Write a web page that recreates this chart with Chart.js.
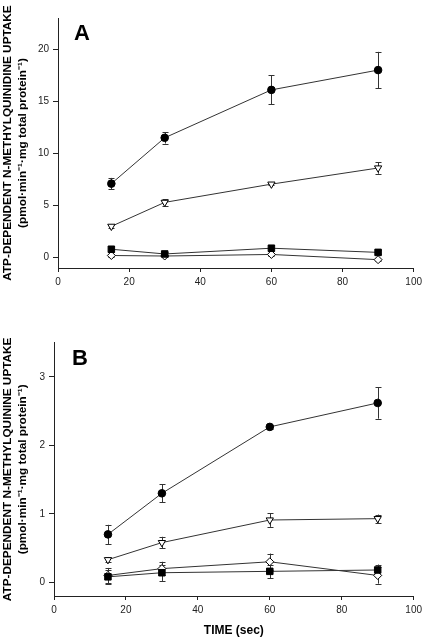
<!DOCTYPE html>
<html>
<head>
<meta charset="utf-8">
<script src="https://cdn.jsdelivr.net/npm/chart.js@4.4.1/dist/chart.umd.min.js"></script>
<style>
  html, body { margin: 0; padding: 0; background: #fff; }
  .panel { position: absolute; left: 0; width: 426px; height: 320px; }
</style>
</head>
<body>
<div class="panel" style="top:0"><canvas id="chartA" width="426" height="320"></canvas></div>
<div class="panel" style="top:320px"><canvas id="chartB" width="426" height="320"></canvas></div>
<script>
// Sampling times (sec) and axis ticks
const times = [15, 30, 60, 90];
const xTicks = [0, 20, 40, 60, 80, 100];
const yTicksA = [0, 5, 10, 15, 20];
const yTicksB = [0, 1, 2, 3];

// Panel A: N-methylquinidine uptake (mean and error)
const aCircle = [7.1, 11.5, 16.1, 18.0];
const aCircleErr = [0.55, 0.55, 1.4, 1.75];
const aTriangle = [3.0, 5.3, 7.05, 8.6];
const aTriangleErr = [0.12, 0.3, 0.12, 0.55];
const aSquare = [0.8, 0.35, 0.9, 0.5];
const aSquareErr = [0.3, 0.15, 0.3, 0.2];
const aDiamond = [0.2, 0.15, 0.3, -0.2];
const aDiamondErr = [0.1, 0.1, 0.1, 0.1];

// Panel B: N-methylquinine uptake (mean and error)
const bCircle = [0.7, 1.3, 2.27, 2.62];
const bCircleErr = [0.14, 0.13, 0.03, 0.23];
const bTriangle = [0.33, 0.58, 0.91, 0.93];
const bTriangleErr = [0.04, 0.085, 0.1, 0.06];
const bDiamond = [0.1, 0.2, 0.3, 0.1];
const bDiamondErr = [0.11, 0.1, 0.12, 0.12];
const bSquare = [0.08, 0.14, 0.16, 0.18];
const bSquareErr = [0.1, 0.12, 0.1, 0.08];

const FONT = "'Liberation Sans', Arial, sans-serif";
const INK = '#222';

// Draws vertical error bars with caps under the markers
const errorBars = {
  id: 'errorBars',
  beforeDatasetsDraw(chart) {
    const { ctx, scales: { x, y } } = chart;
    ctx.save();
    ctx.strokeStyle = '#333';
    ctx.lineWidth = 1;
    chart.data.datasets.forEach(ds => {
      ds.data.forEach((p, i) => {
        const e = ds.errors[i];
        const px = Math.round(x.getPixelForValue(p.x)) + 0.5;
        const top = y.getPixelForValue(p.y + e);
        const bot = y.getPixelForValue(p.y - e);
        ctx.beginPath();
        ctx.moveTo(px, top);
        ctx.lineTo(px, bot);
        ctx.moveTo(px - 3, Math.round(top) + 0.5);
        ctx.lineTo(px + 3, Math.round(top) + 0.5);
        ctx.moveTo(px - 3, Math.round(bot) + 0.5);
        ctx.lineTo(px + 3, Math.round(bot) + 0.5);
        ctx.stroke();
      });
    });
    ctx.restore();
  }
};

// Panel letter in the upper left of the plot area
const panelLetter = {
  id: 'panelLetter',
  afterDraw(chart, args, opts) {
    const { ctx, chartArea } = chart;
    ctx.save();
    ctx.font = 'bold 22px ' + FONT;
    ctx.fillStyle = '#000';
    ctx.textBaseline = 'alphabetic';
    ctx.fillText(opts.text, chartArea.left + opts.dx, chartArea.top + opts.dy);
    ctx.restore();
  }
};

function series(values, errors, style, filled, radius, rotation) {
  return {
    data: values.map((v, i) => ({ x: times[i], y: v })),
    errors,
    borderColor: '#333',
    borderWidth: 1,
    pointStyle: style,
    pointRotation: rotation || 0,
    pointRadius: radius,
    pointBorderWidth: 1,
    pointBorderColor: '#000',
    pointBackgroundColor: filled ? '#000' : '#fff',
    tension: 0
  };
}

function makeChart(id, cfg) {
  return new Chart(document.getElementById(id), {
    type: 'line',
    data: { datasets: cfg.datasets },
    options: {
      responsive: false,
      animation: false,
      events: [],
      layout: { padding: { top: cfg.top, right: 11, left: 0, bottom: 0 } },
      plugins: {
        legend: { display: false },
        tooltip: { enabled: false },
        panelLetter: cfg.letter
      },
      scales: {
        x: {
          type: 'linear',
          position: 'bottom',
          min: 0,
          max: 100,
          afterBuildTicks: s => { s.ticks = xTicks.map(v => ({ value: v })); },
          afterFit: s => { s.height = cfg.xHeight; },
          border: { color: INK, width: 1 },
          grid: { drawOnChartArea: false, drawTicks: true, tickLength: 4, color: INK },
          ticks: { padding: 4, color: INK, font: { family: FONT, size: 10 }, maxRotation: 0 },
          title: {
            display: !!cfg.xTitle,
            text: cfg.xTitle || '',
            color: '#000',
            font: { family: FONT, size: 12, weight: 'bold' },
            padding: { top: 0, bottom: 2 }
          }
        },
        y: {
          min: cfg.yMin,
          max: cfg.yMax,
          afterBuildTicks: s => { s.ticks = cfg.yTicks.map(v => ({ value: v })); },
          afterFit: s => { s.width = cfg.yWidth; },
          border: { color: INK, width: 1 },
          grid: { drawOnChartArea: false, drawTicks: true, tickLength: 5, color: INK },
          ticks: { padding: 4, color: INK, font: { family: FONT, size: 10 } },
          title: {
            display: true,
            text: cfg.yTitle,
            color: '#000',
            font: { family: FONT, size: 11.8, weight: 'bold', lineHeight: 1.22 },
            padding: { top: 1, bottom: 0 }
          }
        }
      }
    },
    plugins: [errorBars, panelLetter]
  });
}

makeChart('chartA', {
  top: 18,
  yMin: -1,
  yMax: 23,
  yTicks: yTicksA,
  yWidth: 58,
  xHeight: 52,
  yTitle: ['ATP-DEPENDENT N-METHYLQUINIDINE UPTAKE', '(pmol\u00b7min\u207b\u00b9\u00b7mg total protein\u207b\u00b9)'],
  letter: { text: 'A', dx: 16, dy: 22 },
  datasets: [
    series(aCircle, aCircleErr, 'circle', true, 3.8),
    series(aTriangle, aTriangleErr, 'triangle', false, 4.2, 180),
    series(aSquare, aSquareErr, 'rect', true, 4.6),
    series(aDiamond, aDiamondErr, 'rectRot', false, 4)
  ]
});

makeChart('chartB', {
  top: 22.7,
  yMin: -0.2,
  yMax: 3.5,
  yTicks: yTicksB,
  yWidth: 54,
  xHeight: 44,
  xTitle: 'TIME (sec)',
  yTitle: ['ATP-DEPENDENT N-METHYLQUININE UPTAKE', '(pmol\u00b7min\u207b\u00b9\u00b7mg total protein\u207b\u00b9)'],
  letter: { text: 'B', dx: 18, dy: 22.3 },
  datasets: [
    series(bCircle, bCircleErr, 'circle', true, 3.8),
    series(bTriangle, bTriangleErr, 'triangle', false, 4.2, 180),
    series(bSquare, bSquareErr, 'rect', true, 4.6),
    series(bDiamond, bDiamondErr, 'rectRot', false, 4)
  ]
});
</script>
</body>
</html>
